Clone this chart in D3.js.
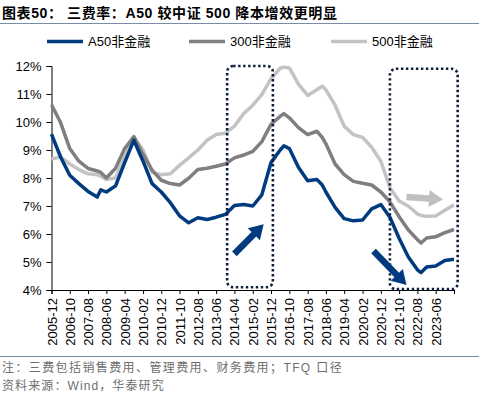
<!DOCTYPE html>
<html><head><meta charset="utf-8">
<script src="https://cdn.jsdelivr.net/npm/d3@7/dist/d3.min.js"></script>
<style>
body{margin:0;background:#fff;}
svg{display:block;font-family:"Liberation Sans",Arial,"Noto Sans CJK SC",sans-serif;}
</style>
</head><body>
<svg id="c" width="479" height="396"></svg>
<script>
// ---------- data ----------
const dates = ["2005-12","2006-05","2006-10","2007-03","2007-08","2008-01","2008-03","2008-06","2008-11","2009-04","2009-09","2010-02","2010-07","2010-12","2011-05","2011-10","2012-03","2012-08","2013-01","2013-06","2013-11","2014-04","2014-09","2015-02","2015-07","2015-12","2016-05","2016-07","2016-10","2017-03","2017-08","2018-01","2018-04","2018-06","2018-11","2019-04","2019-09","2020-02","2020-07","2020-12","2021-05","2021-10","2022-03","2022-08","2022-10","2023-01","2023-06","2023-11","2024-04"];
const a50 = [9.57,8.75,8.10,7.80,7.52,7.32,7.58,7.50,7.72,8.55,9.35,8.60,7.80,7.50,7.12,6.65,6.40,6.58,6.52,6.60,6.70,7.02,7.05,7.00,7.40,8.55,9.00,9.15,9.05,8.38,7.90,7.95,7.75,7.50,6.95,6.55,6.47,6.50,6.90,7.05,6.60,5.85,5.19,4.72,4.62,4.82,4.86,5.05,5.10];
const csi300 = [10.61,9.98,9.05,8.60,8.34,8.25,8.20,8.00,8.35,9.05,9.48,8.84,8.28,7.92,7.80,7.75,7.99,8.30,8.35,8.42,8.50,8.72,8.82,8.95,9.30,9.92,10.20,10.30,10.15,9.80,9.55,9.67,9.45,9.22,8.50,8.12,7.88,7.81,7.75,7.50,7.15,6.62,6.15,5.80,5.68,5.86,5.90,6.05,6.16];
const csi500 = [8.68,8.75,8.50,8.30,8.15,8.12,8.06,7.95,8.00,8.75,9.45,9.00,8.20,8.12,8.15,8.45,8.72,9.00,9.35,9.55,9.60,9.85,10.30,10.60,10.98,11.55,11.92,11.96,11.93,11.35,10.95,11.15,11.28,11.15,10.60,9.85,9.55,9.45,9.10,8.60,7.65,7.18,7.00,6.72,6.66,6.63,6.64,6.85,7.04];
const seriesNames = ["A50非金融","300非金融","500非金融"];
const tickLabels = ["2005-12","2006-10","2007-08","2008-06","2009-04","2010-02","2010-12","2011-10","2012-08","2013-06","2014-04","2015-02","2015-12","2016-10","2017-08","2018-06","2019-04","2020-02","2020-12","2021-10","2022-08","2023-06"];
const axisStart = "2005-12", axisEnd = "2024-04";
const yTicks = [4,5,6,7,8,9,10,11,12];
// annotation boxes and arrows (in data space)
const boxes = [{from:"2013-12",to:"2016-01",top:12.0,bottom:4.1},{from:"2021-05",to:"2024-06",top:11.9,bottom:4.03}];
const arrows = [
  {from:["2014-04",5.29],to:["2015-08",6.35],color:"#003b7f"},
  {from:["2020-08",5.39],to:["2022-02",4.18],color:"#003b7f"},
  {from:["2022-02",7.32],to:["2023-10",7.23],color:"#bfbfbf"}
];

// ---------- chart ----------
const colors = ["#003b7f","#7f7f7f","#c3c3c3"];
const parse = d3.timeParse("%Y-%m");
const svg = d3.select("#c");
const W = 479, H = 396;
const plot = {left:51.5, right:454, top:66, bottom:290};

const x = d3.scaleTime().domain([parse(axisStart), parse(axisEnd)]).range([plot.left, plot.right]);
const y = d3.scaleLinear().domain([4,12]).range([plot.bottom, plot.top]);

// title
svg.append("text").attr("x",2).attr("y",18).attr("font-size",14).attr("font-weight","bold")
  .attr("letter-spacing",0.6).attr("fill","#000").text("图表50：  三费率：A50 较中证 500 降本增效更明显");
svg.append("line").attr("x1",0).attr("x2",W).attr("y1",23.5).attr("y2",23.5)
  .attr("stroke","#7b8cab").attr("stroke-width",1);

// legend
const legX = [47,189,331];
seriesNames.forEach((n,i)=>{
  svg.append("line").attr("x1",legX[i]).attr("x2",legX[i]+36).attr("y1",41.5).attr("y2",41.5)
    .attr("stroke",colors[i]).attr("stroke-width",3.5);
  svg.append("text").attr("x",legX[i]+41).attr("y",46).attr("font-size",13).attr("fill","#000").text(n);
});

// y axis
const yAxis = d3.axisLeft(y).tickValues(yTicks).tickFormat(d=>d+"%").tickSize(5).tickPadding(5);
const gy = svg.append("g").attr("transform",`translate(${plot.left},0)`).call(yAxis);
gy.select(".domain").attr("stroke","#000");
gy.selectAll("text").attr("font-size",13).attr("fill","#000").attr("font-family","'Liberation Sans',Arial,sans-serif");
gy.selectAll(".tick line").attr("stroke","#000");

// x axis
const tickDates = tickLabels.map(parse).concat([parse(axisEnd)]);
const xAxis = d3.axisBottom(x).tickValues(tickDates).tickSize(4).tickPadding(4)
  .tickFormat(d=>{const s=d3.timeFormat("%Y-%m")(d); return tickLabels.includes(s)?s:"";});
const gx = svg.append("g").attr("transform",`translate(0,${plot.bottom})`).call(xAxis);
gx.select(".domain").attr("stroke","#000");
gx.selectAll(".tick line").attr("stroke","#000");
gx.selectAll("text").attr("font-size",13).attr("fill","#000").attr("font-family","'Liberation Sans',Arial,sans-serif")
  .attr("text-anchor","end").attr("dy","0.35em").attr("dx",0)
  .attr("transform","rotate(-90)").attr("x",-8).attr("y",0);

// lines
const data = [a50, csi300, csi500];
const line = d3.line().x((d,i)=>x(parse(dates[i]))).y(d=>y(d));
[2,1,0].forEach(k=>{
  svg.append("path").datum(data[k]).attr("d",line).attr("fill","none")
    .attr("stroke",colors[k]).attr("stroke-width",3.5).attr("stroke-linejoin","round");
});

// dotted boxes
boxes.forEach(b=>{
  const x0=x(parse(b.from)), x1=x(parse(b.to)), y0=y(b.top), y1=y(b.bottom);
  svg.append("rect").attr("x",x0).attr("y",y0).attr("width",x1-x0).attr("height",y1-y0)
    .attr("rx",6).attr("ry",6).attr("fill","none").attr("stroke","#0e1f3d")
    .attr("stroke-width",2.6).attr("stroke-dasharray","2.4 2.6");
});

// block arrows
function blockArrow(p0,p1,shaft,headW,headL){
  const dx=p1[0]-p0[0], dy=p1[1]-p0[1], L=Math.hypot(dx,dy);
  const ux=dx/L, uy=dy/L, nx=-uy, ny=ux;
  const b=[p1[0]-ux*headL, p1[1]-uy*headL];
  const pts=[
    [p0[0]+nx*shaft/2,p0[1]+ny*shaft/2],
    [b[0]+nx*shaft/2,b[1]+ny*shaft/2],
    [b[0]+nx*headW/2,b[1]+ny*headW/2],
    p1,
    [b[0]-nx*headW/2,b[1]-ny*headW/2],
    [b[0]-nx*shaft/2,b[1]-ny*shaft/2],
    [p0[0]-nx*shaft/2,p0[1]-ny*shaft/2]];
  return "M"+pts.map(p=>p.join(",")).join("L")+"Z";
}
arrows.forEach(a=>{
  const p0=[x(parse(a.from[0])),y(a.from[1])], p1=[x(parse(a.to[0])),y(a.to[1])];
  svg.append("path").attr("d",blockArrow(p0,p1,6.5,17,14)).attr("fill",a.color);
});

// footer
svg.append("line").attr("x1",0).attr("x2",W).attr("y1",356.5).attr("y2",356.5)
  .attr("stroke","#7b8cab").attr("stroke-width",1);
svg.append("text").attr("x",2).attr("y",372).attr("font-size",12).attr("fill","#6e6e6e")
  .attr("letter-spacing",1.4).text("注：三费包括销售费用、管理费用、财务费用；TFQ 口径");
svg.append("text").attr("x",2).attr("y",390).attr("font-size",12).attr("fill","#6e6e6e")
  .attr("letter-spacing",1.1).text("资料来源：Wind，华泰研究");
</script>
</body></html>
